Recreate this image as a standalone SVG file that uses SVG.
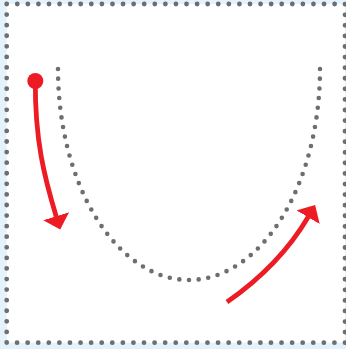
<svg xmlns="http://www.w3.org/2000/svg" width="346" height="349" viewBox="0 0 346 349">
  <defs>
    <style>
      .dots { fill: none; stroke: #6d6e72; stroke-linecap: round; stroke-dasharray: 0 1; }
      .arrow { fill: none; stroke: #ed1c24; stroke-width: 4.8; stroke-linecap: butt; marker-end: url(#head); }
    </style>
    <marker id="head" viewBox="0 0 14 27" refX="0.5" refY="13.5" markerWidth="14" markerHeight="27" markerUnits="userSpaceOnUse" orient="auto">
      <path d="M0,0 L14,13.5 L0,27 Z" fill="#ed1c24"/>
    </marker>
  </defs>
  <rect x="0" y="0" width="346" height="349" fill="#e3f2fb"/>
  <g id="frame">
    <rect x="6.7" y="4" width="338.3" height="338.7" fill="#ffffff"/>
    <rect class="dots" x="6.7" y="4" width="338.3" height="338.7" stroke-width="4.8" pathLength="128"/>
  </g>
  <g id="curve">
    <path class="dots" d="M58,69 A131,211 0 0 0 320,69" stroke-width="4.6" pathLength="56"/>
  </g>
  <g id="connectors">
    <g id="arrow-down">
      <circle cx="35.3" cy="81" r="8" fill="#ed1c24"/>
      <path class="arrow" d="M35.3,81 C35,140 44,176 56.3,216.7"/>
    </g>
    <g id="arrow-up">
      <path class="arrow" d="M227,302 Q280,265 308.3,216.7"/>
    </g>
  </g>
</svg>
